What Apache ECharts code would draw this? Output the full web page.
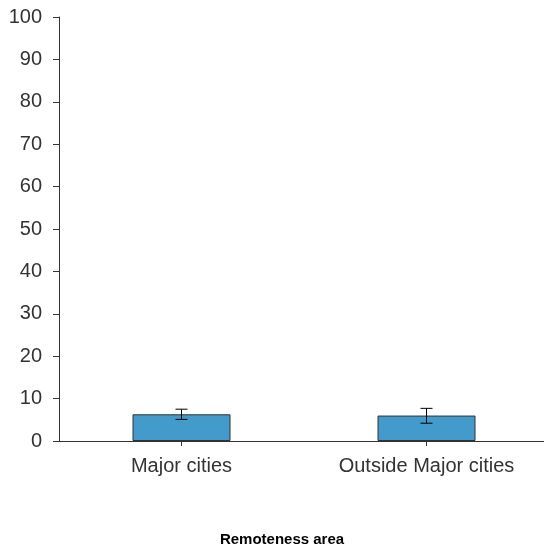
<!DOCTYPE html>
<html><head><meta charset="utf-8">
<script src="https://cdn.jsdelivr.net/npm/echarts@6/dist/echarts.min.js"></script>
<style>html,body{margin:0;padding:0;background:#fff;overflow:hidden}#c{width:550px;height:552px}</style>
</head><body><div id="c"></div>
<script>
var categories = ['Major cities', 'Outside Major cities'];
var values = [6.3, 6.0];
var errLow = [5.1, 4.2];
var errHigh = [7.5, 7.7];
var yTicks = [0, 10, 20, 30, 40, 50, 60, 70, 80, 90, 100];
var xTitle = 'Remoteness area';

var chart = echarts.init(document.getElementById('c'));
var errData = categories.map(function (c, i) { return [i, errLow[i], errHigh[i]]; });
chart.setOption({
  animation: false,
  grid: { left: 59, right: 1, top: 17, bottom: 111, containLabel: false },
  xAxis: {
    type: 'category', data: categories,
    axisLine: { show: true, lineStyle: { color: '#333', width: 1 } },
    axisTick: { show: true, alignWithLabel: true, length: 5, lineStyle: { color: '#333' } },
    axisLabel: { fontFamily: 'Arial, Liberation Sans', fontSize: 20, color: '#333', margin: 15 }
  },
  yAxis: {
    type: 'value', min: yTicks[0], max: yTicks[yTicks.length - 1], interval: 10,
    splitLine: { show: false },
    axisLine: { show: true, lineStyle: { color: '#333', width: 1 } },
    axisTick: { show: true, length: 6, lineStyle: { color: '#333' } },
    axisLabel: { fontFamily: 'Arial, Liberation Sans', fontSize: 20, color: '#333', margin: 17 }
  },
  graphic: [{
    type: 'text', x: 282, y: 540,
    style: { text: xTitle, fontFamily: 'Arial, Liberation Sans', fontSize: 15, fontWeight: 'bold', fill: '#000', textAlign: 'center', textVerticalAlign: 'middle' }
  }],
  series: [{
    type: 'bar', data: values, barWidth: '40%',
    itemStyle: { color: '#429BCB', borderColor: '#333', borderWidth: 1 }
  }, {
    type: 'custom', data: errData,
    renderItem: function (params, api) {
      var x = api.value(0);
      var lo = api.coord([x, api.value(1)]);
      var hi = api.coord([x, api.value(2)]);
      var hw = 6;
      var st = { stroke: '#000', lineWidth: 1 };
      return { type: 'group', children: [
        { type: 'line', shape: { x1: lo[0], y1: lo[1], x2: hi[0], y2: hi[1] }, style: st },
        { type: 'line', shape: { x1: lo[0] - hw, y1: lo[1], x2: lo[0] + hw, y2: lo[1] }, style: st },
        { type: 'line', shape: { x1: hi[0] - hw, y1: hi[1], x2: hi[0] + hw, y2: hi[1] }, style: st }
      ]};
    },
    z: 10
  }]
});
</script></body></html>
